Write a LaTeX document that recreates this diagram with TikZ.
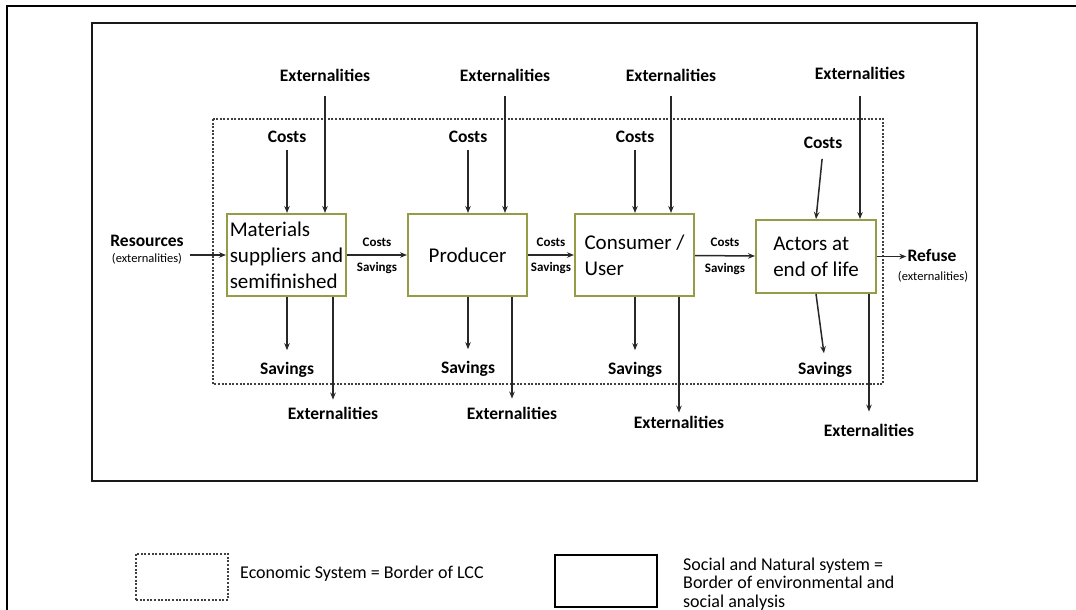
\documentclass[tikz,border=0pt]{standalone}
\usepackage{fontspec}
\setmainfont{Carlito}
\usetikzlibrary{positioning,arrows.meta}
\definecolor{stageline}{RGB}{150,155,70}
\definecolor{arrowgray}{RGB}{40,40,40}

\begin{document}
\begin{tikzpicture}[>={Stealth[length=7pt,width=5.5pt]},x=1pt,y=-1pt,
    stage/.style={draw=stageline,line width=2pt,minimum width=119,minimum height=82,inner sep=1pt,align=left,font=\fontsize{21}{26}\selectfont},
    lbl/.style={inner sep=1pt,font=\fontsize{17.5}{20}\selectfont\bfseries},
    smalllbl/.style={inner sep=1pt,font=\fontsize{13}{15}\selectfont\bfseries},
    tinylbl/.style={inner sep=0pt,font=\fontsize{12.5}{13}\selectfont},
    legtext/.style={inner sep=0pt,align=left,font=\fontsize{18}{18.5}\selectfont},
    flow/.style={->,line width=1.5pt,draw=arrowgray},
    econ/.style={draw=black!75,line width=1.4pt,dash pattern=on 2pt off 1.6pt}]
\useasboundingbox (0,0) rectangle (1076,610);
% frames
\draw[line width=1.4pt] (7,610) -- (7,6) -- (1076,6);
\draw[line width=2.6pt,black!90] (92,23) rectangle (977,481);
\draw[econ] (213,119) rectangle (883,384);

% stages
\node[stage] (mat) at (286.5,255) {Materials\\suppliers and\\semifinished};
\node[stage] (prod) at (467.5,255) {Producer};
\node[stage] (con) at (634.5,255) {Consumer /\\User};
\node[stage,minimum width=120,minimum height=73] (act) at (816,256.5) {Actors at\\end of life};

% labels above
\node[lbl] (et1) at (325,75) {Externalities};
\node[lbl] (et2) at (505,75) {Externalities};
\node[lbl] (et3) at (671,75) {Externalities};
\node[lbl] (et4) at (860,73) {Externalities};
\node[lbl] (c1) at (287,137) {Costs};
\node[lbl] (c2) at (468,137) {Costs};
\node[lbl] (c3) at (635,137) {Costs};
\node[lbl] (c4) at (823,143) {Costs};

% labels below
\node[lbl] (s1) at (287,370) {Savings};
\node[lbl] (s2) at (468,369) {Savings};
\node[lbl] (s3) at (635,370) {Savings};
\node[lbl] (s4) at (825,370) {Savings};
\node[lbl] (eb1) at (333,413) {Externalities};
\node[lbl] (eb2) at (512,413) {Externalities};
\node[lbl] (eb3) at (679,422) {Externalities};
\node[lbl] (eb4) at (869,430) {Externalities};

% input and output
\node[lbl] (res) at (147,241) {Resources};
\node[tinylbl] (resx) at (147,259) {(externalities)};
\node[lbl] (ref) at (932,255) {Refuse};
\node[tinylbl] (refx) at (933,277) {(externalities)};

% arrows into the stages
\draw[flow,shorten <=14pt] (et1.south) -- (et1 |- mat.north);
\draw[flow,shorten <=14pt] (et2.south) -- (et2 |- prod.north);
\draw[flow,shorten <=14pt] (et3.south) -- (et3 |- con.north);
\draw[flow,shorten <=16pt] (et4.south) -- (et4 |- act.north);
\draw[flow,shorten <=6pt] (c1.south) -- (c1 |- mat.north);
\draw[flow,shorten <=6pt] (c2.south) -- (c2 |- prod.north);
\draw[flow,shorten <=6pt] (c3.south) -- (c3 |- con.north);
\draw[flow,shorten <=9pt] (c4.south) -- (act.north);

% arrows out of the stages
\draw[flow,shorten >=11pt] (s1 |- mat.south) -- (s1.north);
\draw[flow,shorten >=11pt] (s2 |- prod.south) -- (s2.north);
\draw[flow,shorten >=11pt] (s3 |- con.south) -- (s3.north);
\draw[flow,shorten >=8pt] (act.south) -- (s4.north);
\draw[flow,shorten >=6pt] (eb1 |- mat.south) -- (eb1.north);
\draw[flow,shorten >=7pt] (eb2 |- prod.south) -- (eb2.north);
\draw[flow,shorten >=2pt] (eb3 |- con.south) -- (eb3.north);
\draw[flow,shorten >=11pt] (eb4 |- act.south) -- (eb4.north);

% chain
\draw[flow,shorten <=5pt] (res.east |- mat.west) -- (mat.west);
\draw[flow] (mat) -- node[midway,above=7pt,smalllbl]{Costs} node[midway,below=6pt,smalllbl]{Savings} (prod);
\draw[flow] (prod) -- node[midway,above=7pt,smalllbl]{Costs} node[midway,below=6pt,smalllbl]{Savings} (con);
\draw[flow] (con) -- node[midway,above=7pt,smalllbl]{Costs} node[midway,below=6pt,smalllbl]{Savings} (act);
\draw[flow] (act.east) -- (ref.west |- act.east);

% legend
\node[econ,minimum width=92,minimum height=46,inner sep=0pt] (legdash) at (182,577) {};
\node[legtext,anchor=west] (legdashtxt) at (240,574) {Economic System = Border of LCC};
\node[draw,line width=2.6pt,minimum width=102,minimum height=52,inner sep=0pt] (legsolid) at (606,581) {};
\node[legtext,anchor=west] (legsolidtxt) at (683,584) {Social and Natural system =\\Border of environmental and\\social analysis};
\end{tikzpicture}
\end{document}
